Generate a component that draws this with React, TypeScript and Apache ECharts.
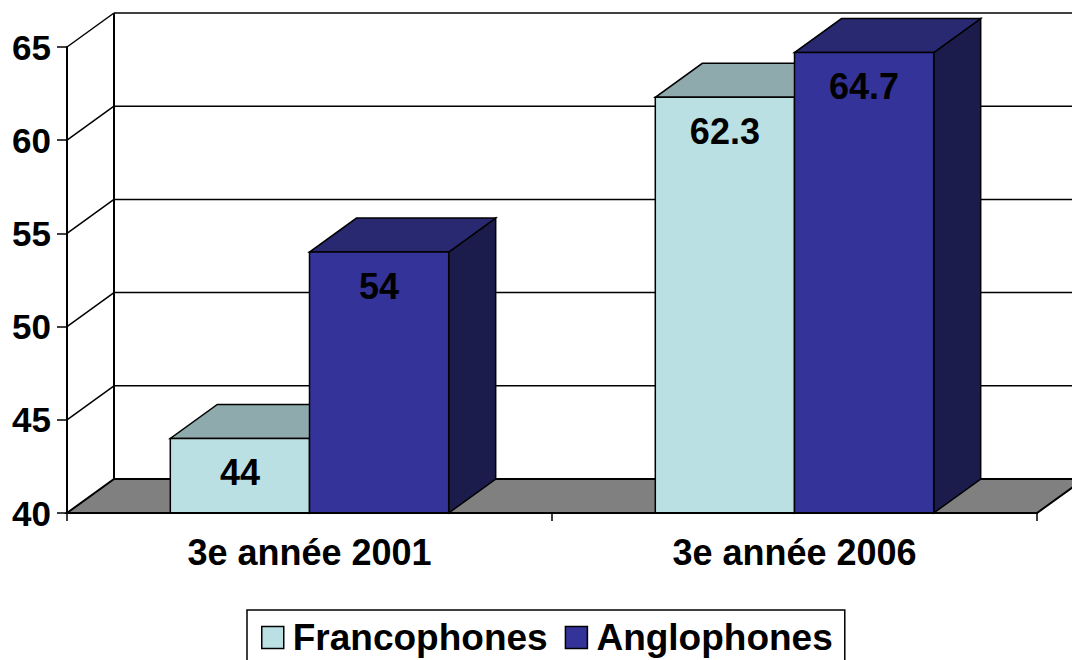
import React, { useEffect, useRef } from "react";
import * as echarts from "echarts";

const categories = ["3e année 2001", "3e année 2006"];
const seriesNames = ["Francophones", "Anglophones"];
const francophones = [44, 62.3];
const anglophones = [54, 64.7];
const yTicks = [40, 45, 50, 55, 60, 65];

const FONT = "'Liberation Sans', Arial, Helvetica, sans-serif";
const DX = 47;
const DY = -34;
const BAR_FRAC = 0.287;

const COLORS = [
  { front: "#BBE0E3", top: "#8EAAAC", side: "#6C8C8E" },
  { front: "#333399", top: "#292972", side: "#1C1C4C" },
];

const Y_MIN = yTicks[0];
const Y_MAX = yTicks[yTicks.length - 1];

function makeBarRenderer(idx: number) {
  return (params: any, api: any) => {
    const cat = api.value(0);
    const val = api.value(1);
    const topPt = api.coord([cat, val]);
    const basePt = api.coord([cat, Y_MIN]);
    const band = api.size([1, 0])[0];
    const w = band * BAR_FRAC;
    const x0 = idx === 0 ? topPt[0] - w : topPt[0];
    const x1 = x0 + w;
    const yt = topPt[1];
    const yb = basePt[1];
    const c = COLORS[idx];
    const stroke = { stroke: "#000", lineWidth: 1.5 };
    return {
      type: "group",
      children: [
        {
          type: "polygon",
          shape: { points: [[x1, yt], [x1 + DX, yt + DY], [x1 + DX, yb + DY], [x1, yb]] },
          style: { fill: c.side, ...stroke },
        },
        {
          type: "polygon",
          shape: { points: [[x0, yt], [x1, yt], [x1 + DX, yt + DY], [x0 + DX, yt + DY]] },
          style: { fill: c.top, ...stroke },
        },
        {
          type: "rect",
          shape: { x: x0, y: yt, width: w, height: yb - yt },
          style: { fill: c.front, ...stroke },
        },
        {
          type: "text",
          style: {
            text: String(val),
            x: (x0 + x1) / 2,
            y: yt + 34,
            align: "center",
            verticalAlign: "middle",
            fill: "#000",
            fontFamily: FONT,
            fontWeight: "bold",
            fontSize: 36,
          },
        },
      ],
    };
  };
}

function renderBackdrop(params: any, api: any) {
  const v = api.value(1);
  const cs = params.coordSys;
  const left = cs.x;
  const right = cs.x + cs.width;
  const y = api.coord([0, v])[1];
  const yMinPx = api.coord([0, Y_MIN])[1];
  const yMaxPx = api.coord([0, Y_MAX])[1];
  const line = { stroke: "#000", lineWidth: 1.5 };
  const children: any[] = [];
  if (v === Y_MIN) {
    children.push({
      type: "polygon",
      shape: {
        points: [[left, yMinPx], [right, yMinPx], [right + DX, yMinPx + DY], [left + DX, yMinPx + DY]],
      },
      style: { fill: "#808080", stroke: "#000", lineWidth: 2 },
    });
    children.push({
      type: "line",
      shape: { x1: left + DX, y1: yMinPx + DY, x2: left + DX, y2: yMaxPx + DY },
      style: { ...line, lineWidth: 2 },
    });
  } else {
    children.push({
      type: "line",
      shape: { x1: left, y1: y, x2: left + DX, y2: y + DY },
      style: line,
    });
    children.push({
      type: "line",
      shape: { x1: left + DX, y1: y + DY, x2: right + DX, y2: y + DY },
      style: line,
    });
  }
  return { type: "group", children };
}

export default function App() {
  const ref = useRef<HTMLDivElement>(null);
  useEffect(() => {
    if (!ref.current) return;
    const chart = echarts.init(ref.current, null, { renderer: "svg" });
    const barSeries = [francophones, anglophones].map((arr, idx) => ({
      type: "custom",
      name: seriesNames[idx],
      renderItem: makeBarRenderer(idx),
      data: arr.map((v, i) => [i, v]),
      encode: { x: 0, y: 1 },
      itemStyle: { color: COLORS[idx].front },
      clip: false,
      z: 3 + idx,
    }));
    chart.setOption({
      animation: false,
      backgroundColor: "#fff",
      grid: { left: 67, right: 35, top: 47, bottom: 147 },
      xAxis: {
        type: "category",
        data: categories,
        axisLine: { show: true, lineStyle: { color: "#000", width: 2 } },
        axisTick: { show: true, length: 8, lineStyle: { color: "#000", width: 1.5 } },
        axisLabel: {
          color: "#000",
          fontFamily: FONT,
          fontWeight: "bold",
          fontSize: 36,
          margin: 21,
        },
        splitLine: { show: false },
        z: 10,
      },
      yAxis: {
        type: "value",
        min: Y_MIN,
        max: Y_MAX,
        interval: 5,
        axisLine: { show: true, lineStyle: { color: "#000", width: 2 } },
        axisTick: { show: true, length: 10, lineStyle: { color: "#000", width: 1.5 } },
        axisLabel: {
          color: "#000",
          fontFamily: FONT,
          fontWeight: "bold",
          fontSize: 35,
          margin: 16,
        },
        splitLine: { show: false },
      },
      legend: {
        data: seriesNames,
        left: 247,
        top: 610,
        orient: "horizontal",
        itemGap: 17,
        itemWidth: 22,
        itemHeight: 22,
        icon: "rect",
        padding: [9, 12, 40, 14],
        borderColor: "#000",
        borderWidth: 1.5,
        itemStyle: { borderColor: "#000", borderWidth: 1.5 },
        textStyle: {
          color: "#000",
          fontFamily: FONT,
          fontWeight: "bold",
          fontSize: 37,
          padding: [0, 0, 0, 4],
        },
      },
      series: [
        {
          type: "custom",
          name: "backdrop",
          renderItem: renderBackdrop,
          data: yTicks.map((v) => [0, v]),
          encode: { x: 0, y: 1 },
          clip: false,
          silent: true,
          z: 1,
        },
        ...barSeries,
      ],
    });
    return () => chart.dispose();
  }, []);
  return (
    <div
      ref={ref}
      style={{ position: "fixed", left: 0, top: 0, width: 1072, height: 660 }}
    />
  );
}
